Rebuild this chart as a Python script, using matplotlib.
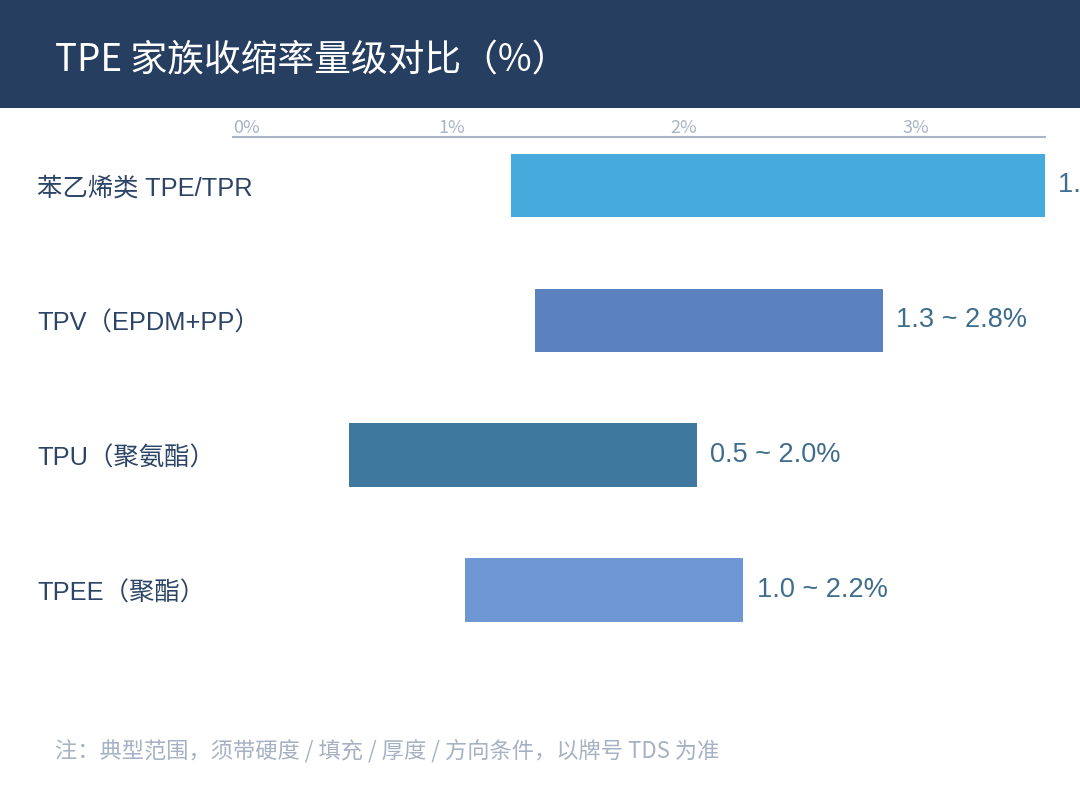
import matplotlib
matplotlib.use("Agg")
import matplotlib.pyplot as plt
from matplotlib.patches import Rectangle
from matplotlib.transforms import blended_transform_factory

# data
categories = ["苯乙烯类 TPE/TPR", "TPV（EPDM+PP）", "TPU（聚氨酯）", "TPEE（聚酯）"]
low = [1.2, 1.3, 0.5, 1.0]
high = [3.5, 2.8, 2.0, 2.2]
bar_colors = ["#47aadc", "#5b82bf", "#3e789f", "#6f97d3"]
ticks = [0, 1, 2, 3]
tick_labels = ["0%", "1%", "2%", "3%"]

title = "TPE 家族收缩率量级对比（%）"
note = "注：典型范围，须带硬度 / 填充 / 厚度 / 方向条件，以牌号 TDS 为准"

CJK = ["Noto Sans CJK SC", "DejaVu Sans"]
LAT = ["Liberation Sans", "Noto Sans CJK SC", "DejaVu Sans"]

W, H = 1080, 810
fig = plt.figure(figsize=(W / 100, H / 100), dpi=100)
fig.patch.set_facecolor("white")

# header band
fig.patches.append(Rectangle((0, 1 - 108 / H), 1, 108 / H, transform=fig.transFigure,
                             facecolor="#263e60", edgecolor="none", zorder=0))
fig.text(55 / W, 1 - 61 / H, title, color="white", fontsize=26.5, family=CJK,
         va="center", ha="left")

# chart
ax = fig.add_axes([233 / W, 1 - 700 / H, 812 / W, 563 / H])
ypos = list(range(len(categories)))
widths = [h - l for l, h in zip(low, high)]
ax.barh(ypos, widths, left=low, height=0.467, color=bar_colors, edgecolor="none")
ax.set_xlim(0, 3.5)
ax.set_ylim(3.815, -0.356)

for s in ["left", "right", "bottom"]:
    ax.spines[s].set_visible(False)
ax.spines["top"].set_color("#a9b4c6")
ax.spines["top"].set_linewidth(1.5)
ax.set_yticks([])
ax.xaxis.tick_top()
ax.set_xticks(ticks)
ax.set_xticklabels(tick_labels, fontsize=13, color="#a9b4c6", family=CJK)
ax.tick_params(axis="x", length=0, pad=0)
for i, lab in enumerate(ax.get_xticklabels()):
    lab.set_ha("left" if i == 0 else "right")

# category labels on the left
tr = blended_transform_factory(fig.transFigure, ax.transData)
for i, name in enumerate(categories):
    ax.text(37 / W, i + 0.025, name, transform=tr, fontsize=18.3, color="#2c4466",
            family=LAT, va="center", ha="left")

# range labels (first one runs off the right edge, as in the source)
for i, (l, h) in enumerate(zip(low, high)):
    ax.annotate(f"{l:.1f} ~ {h:.1f}%", xy=(h, i), xytext=(9.5, 0),
                textcoords="offset points", va="center", ha="left",
                fontsize=19.5, color="#3f6d8e", family=LAT,
                annotation_clip=False)

# footnote
fig.text(55 / W, 1 - 752 / H, note, fontsize=16, color="#a6b1c3", family=CJK,
         va="center", ha="left")

fig.savefig("out.png", dpi=100)
